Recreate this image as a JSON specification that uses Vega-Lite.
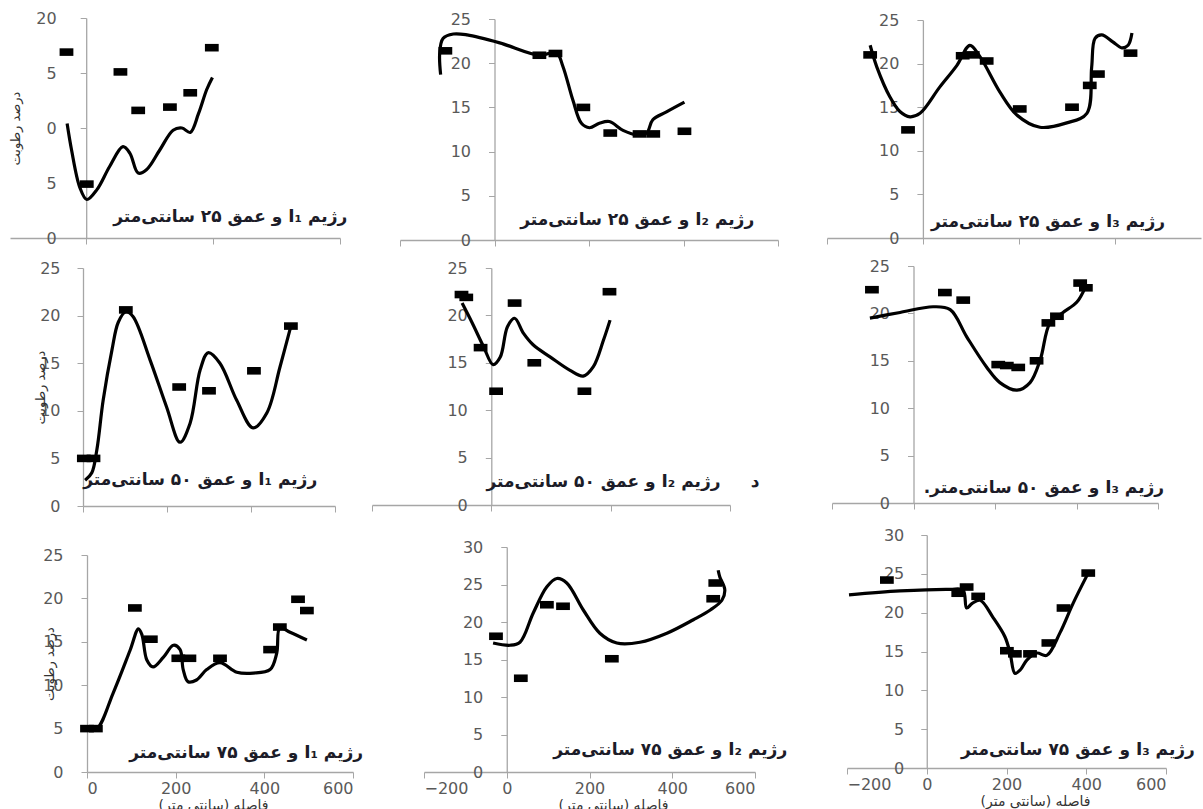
{
"$schema": "https://vega.github.io/schema/vega-lite/v6.json",
"width": 1203,
"height": 809,
"autosize": {"type": "none"},
"padding": 0,
"config": {
  "view": {"stroke": null},
  "font": "DejaVu Sans",
  "axis": {"grid": false, "domainColor": "#a6a6a6", "tickColor": "#a6a6a6", "domainWidth": 1.3, "tickSize": 6, "labelColor": "#595959", "labelFont": "DejaVu Sans", "labelFontSize": 16, "titleFont": "DejaVu Sans", "titleFontWeight": "normal", "titleColor": "#333333", "titleFontSize": 13},
  "line": {"color": "black", "strokeWidth": 3.2, "interpolate": "catmull-rom"},
  "point": {"color": "black", "filled": true, "opacity": 1, "size": 190, "shape": "M-1,-0.55L1,-0.55L1,0.55L-1,0.55Z"},
  "text": {"font": "DejaVu Sans", "fontWeight": "bold", "fontSize": 17, "color": "#1c1c28", "align": "center", "baseline": "middle"}
},
"datasets": {"d": [
{"p":1,"k":"t","label":"\u202bرژیم I₁ و عمق ۲۵ سانتی‌متر\u202c"},
{"p":2,"k":"t","label":"\u202bرژیم I₂ و عمق ۲۵ سانتی‌متر\u202c"},
{"p":3,"k":"t","label":"\u202bرژیم I₃ و عمق ۲۵ سانتی‌متر\u202c"},
{"p":4,"k":"t","label":"\u202bرژیم I₁ و عمق ۵۰ سانتی‌متر\u202c"},
{"p":5,"k":"t","label":"\u202bرژیم I₂ و عمق ۵۰ سانتی‌متر\u202c"},
{"p":5,"k":"u","label":"د"},
{"p":6,"k":"t","label":"\u202bرژیم I₃ و عمق ۵۰ سانتی‌متر.\u202c"},
{"p":7,"k":"t","label":"\u202bرژیم I₁ و عمق ۷۵ سانتی‌متر\u202c"},
{"p":8,"k":"t","label":"\u202bرژیم I₂ و عمق ۷۵ سانتی‌متر\u202c"},
{"p":9,"k":"t","label":"\u202bرژیم I₃ و عمق ۷۵ سانتی‌متر\u202c"},
{"p":1,"k":"m","x":-31,"y":16.9},{"p":1,"k":"m","x":1,"y":4.9},{"p":1,"k":"m","x":54,"y":15.1},{"p":1,"k":"m","x":82,"y":11.6},{"p":1,"k":"m","x":132,"y":11.9},{"p":1,"k":"m","x":164,"y":13.2},{"p":1,"k":"m","x":198,"y":17.3},
{"p":1,"k":"c","i":1,"x":-30,"y":10.4},{"p":1,"k":"c","i":2,"x":-23,"y":8},{"p":1,"k":"c","i":3,"x":-10,"y":4.6},{"p":1,"k":"c","i":4,"x":1,"y":3.5},{"p":1,"k":"c","i":5,"x":17,"y":4.4},{"p":1,"k":"c","i":6,"x":37,"y":6.5},{"p":1,"k":"c","i":7,"x":58,"y":8.3},{"p":1,"k":"c","i":8,"x":69,"y":7.7},{"p":1,"k":"c","i":9,"x":82,"y":5.9},{"p":1,"k":"c","i":10,"x":95,"y":6.2},{"p":1,"k":"c","i":11,"x":116,"y":8},{"p":1,"k":"c","i":12,"x":137,"y":9.8},{"p":1,"k":"c","i":13,"x":151,"y":10},{"p":1,"k":"c","i":14,"x":164,"y":9.6},{"p":1,"k":"c","i":15,"x":177,"y":11.3},{"p":1,"k":"c","i":16,"x":190,"y":13.5},{"p":1,"k":"c","i":17,"x":199,"y":14.6},
{"p":2,"k":"m","x":-104,"y":21.4},{"p":2,"k":"m","x":95,"y":20.9},{"p":2,"k":"m","x":129,"y":21.1},{"p":2,"k":"m","x":188,"y":15},{"p":2,"k":"m","x":245,"y":12.1},{"p":2,"k":"m","x":307,"y":12},{"p":2,"k":"m","x":336,"y":12},{"p":2,"k":"m","x":402,"y":12.3},
{"p":2,"k":"c","i":1,"x":-114,"y":18.7},{"p":2,"k":"c","i":2,"x":-116,"y":21.1},{"p":2,"k":"c","i":3,"x":-109,"y":22.8},{"p":2,"k":"c","i":4,"x":-87,"y":23.3},{"p":2,"k":"c","i":5,"x":-58,"y":23.2},{"p":2,"k":"c","i":6,"x":11,"y":22.3},{"p":2,"k":"c","i":7,"x":95,"y":20.9},{"p":2,"k":"c","i":8,"x":131,"y":21.2},{"p":2,"k":"c","i":9,"x":145,"y":19.6},{"p":2,"k":"c","i":10,"x":166,"y":15.8},{"p":2,"k":"c","i":11,"x":184,"y":13.2},{"p":2,"k":"c","i":12,"x":201,"y":12.7},{"p":2,"k":"c","i":13,"x":222,"y":13.2},{"p":2,"k":"c","i":14,"x":243,"y":13.4},{"p":2,"k":"c","i":15,"x":272,"y":12.4},{"p":2,"k":"c","i":16,"x":301,"y":11.9},{"p":2,"k":"c","i":17,"x":322,"y":12.1},{"p":2,"k":"c","i":18,"x":335,"y":13.6},{"p":2,"k":"c","i":19,"x":364,"y":14.5},{"p":2,"k":"c","i":20,"x":402,"y":15.6},
{"p":3,"k":"m","x":-110,"y":21},{"p":3,"k":"m","x":-31,"y":12.4},{"p":3,"k":"m","x":83,"y":20.9},{"p":3,"k":"m","x":104,"y":21},{"p":3,"k":"m","x":133,"y":20.3},{"p":3,"k":"m","x":202,"y":14.8},{"p":3,"k":"m","x":311,"y":15},{"p":3,"k":"m","x":348,"y":17.5},{"p":3,"k":"m","x":365,"y":18.8},{"p":3,"k":"m","x":433,"y":21.2},
{"p":3,"k":"c","i":1,"x":-110,"y":22.1},{"p":3,"k":"c","i":2,"x":-96,"y":19.6},{"p":3,"k":"c","i":3,"x":-69,"y":16.2},{"p":3,"k":"c","i":4,"x":-48,"y":14.5},{"p":3,"k":"c","i":5,"x":-27,"y":13.9},{"p":3,"k":"c","i":6,"x":-6,"y":14.3},{"p":3,"k":"c","i":7,"x":35,"y":17.3},{"p":3,"k":"c","i":8,"x":71,"y":19.8},{"p":3,"k":"c","i":9,"x":98,"y":22.1},{"p":3,"k":"c","i":10,"x":119,"y":20.8},{"p":3,"k":"c","i":11,"x":161,"y":16.7},{"p":3,"k":"c","i":12,"x":196,"y":14.1},{"p":3,"k":"c","i":13,"x":244,"y":12.7},{"p":3,"k":"c","i":14,"x":300,"y":13.2},{"p":3,"k":"c","i":15,"x":342,"y":14.3},{"p":3,"k":"c","i":16,"x":352,"y":19.6},{"p":3,"k":"c","i":17,"x":359,"y":22.9},{"p":3,"k":"c","i":18,"x":373,"y":23.3},{"p":3,"k":"c","i":19,"x":396,"y":22.5},{"p":3,"k":"c","i":20,"x":415,"y":21.8},{"p":3,"k":"c","i":21,"x":428,"y":22.1},{"p":3,"k":"c","i":22,"x":436,"y":23.5},
{"p":4,"k":"m","x":2,"y":5},{"p":4,"k":"m","x":25,"y":5},{"p":4,"k":"m","x":102,"y":20.6},{"p":4,"k":"m","x":229,"y":12.5},{"p":4,"k":"m","x":300,"y":12.1},{"p":4,"k":"m","x":407,"y":14.2},{"p":4,"k":"m","x":495,"y":18.9},
{"p":4,"k":"c","i":1,"x":5,"y":2.7},{"p":4,"k":"c","i":2,"x":21,"y":3.5},{"p":4,"k":"c","i":3,"x":33,"y":5.9},{"p":4,"k":"c","i":4,"x":48,"y":11.1},{"p":4,"k":"c","i":5,"x":69,"y":16.4},{"p":4,"k":"c","i":6,"x":84,"y":19.3},{"p":4,"k":"c","i":7,"x":102,"y":20.4},{"p":4,"k":"c","i":8,"x":119,"y":19.9},{"p":4,"k":"c","i":9,"x":160,"y":15.3},{"p":4,"k":"c","i":10,"x":199,"y":10.4},{"p":4,"k":"c","i":11,"x":231,"y":6.7},{"p":4,"k":"c","i":12,"x":255,"y":8.7},{"p":4,"k":"c","i":13,"x":279,"y":14.3},{"p":4,"k":"c","i":14,"x":298,"y":16.1},{"p":4,"k":"c","i":15,"x":326,"y":15},{"p":4,"k":"c","i":16,"x":366,"y":11.1},{"p":4,"k":"c","i":17,"x":405,"y":8.2},{"p":4,"k":"c","i":18,"x":438,"y":9.8},{"p":4,"k":"c","i":19,"x":469,"y":14.6},{"p":4,"k":"c","i":20,"x":495,"y":18.9},
{"p":5,"k":"m","x":-50,"y":22.2},{"p":5,"k":"m","x":-42,"y":21.9},{"p":5,"k":"m","x":-18,"y":16.6},{"p":5,"k":"m","x":8,"y":12},{"p":5,"k":"m","x":39,"y":21.3},{"p":5,"k":"m","x":72,"y":15},{"p":5,"k":"m","x":156,"y":12},{"p":5,"k":"m","x":198,"y":22.5},
{"p":5,"k":"c","i":1,"x":-49,"y":21.3},{"p":5,"k":"c","i":2,"x":-32,"y":19.2},{"p":5,"k":"c","i":3,"x":-13,"y":16.7},{"p":5,"k":"c","i":4,"x":3,"y":14.8},{"p":5,"k":"c","i":5,"x":15,"y":15.6},{"p":5,"k":"c","i":6,"x":27,"y":18.8},{"p":5,"k":"c","i":7,"x":39,"y":19.7},{"p":5,"k":"c","i":8,"x":54,"y":18.1},{"p":5,"k":"c","i":9,"x":70,"y":16.9},{"p":5,"k":"c","i":10,"x":99,"y":15.6},{"p":5,"k":"c","i":11,"x":132,"y":14.2},{"p":5,"k":"c","i":12,"x":154,"y":13.6},{"p":5,"k":"c","i":13,"x":171,"y":14.6},{"p":5,"k":"c","i":14,"x":188,"y":17.4},{"p":5,"k":"c","i":15,"x":199,"y":19.5},
{"p":6,"k":"m","x":-102,"y":22.5},{"p":6,"k":"m","x":77,"y":22.2},{"p":6,"k":"m","x":122,"y":21.4},{"p":6,"k":"m","x":208,"y":14.6},{"p":6,"k":"m","x":229,"y":14.5},{"p":6,"k":"m","x":257,"y":14.3},{"p":6,"k":"m","x":302,"y":15},{"p":6,"k":"m","x":331,"y":19},{"p":6,"k":"m","x":352,"y":19.7},{"p":6,"k":"m","x":409,"y":23.2},{"p":6,"k":"m","x":423,"y":22.7},
{"p":6,"k":"c","i":1,"x":-107,"y":19.5},{"p":6,"k":"c","i":2,"x":-33,"y":20.1},{"p":6,"k":"c","i":3,"x":48,"y":20.7},{"p":6,"k":"c","i":4,"x":90,"y":20.4},{"p":6,"k":"c","i":5,"x":131,"y":17.5},{"p":6,"k":"c","i":6,"x":180,"y":14.3},{"p":6,"k":"c","i":7,"x":212,"y":12.7},{"p":6,"k":"c","i":8,"x":254,"y":11.9},{"p":6,"k":"c","i":9,"x":286,"y":12.7},{"p":6,"k":"c","i":10,"x":311,"y":15.1},{"p":6,"k":"c","i":11,"x":335,"y":19},{"p":6,"k":"c","i":12,"x":367,"y":20.1},{"p":6,"k":"c","i":13,"x":401,"y":21.2},{"p":6,"k":"c","i":14,"x":421,"y":22.7},
{"p":7,"k":"m","x":0,"y":5},{"p":7,"k":"m","x":20,"y":5},{"p":7,"k":"m","x":108,"y":18.9},{"p":7,"k":"m","x":144,"y":15.3},{"p":7,"k":"m","x":206,"y":13.1},{"p":7,"k":"m","x":231,"y":13.1},{"p":7,"k":"m","x":300,"y":13.1},{"p":7,"k":"m","x":413,"y":14.1},{"p":7,"k":"m","x":435,"y":16.7},{"p":7,"k":"m","x":476,"y":19.9},{"p":7,"k":"m","x":496,"y":18.6},
{"p":7,"k":"c","i":1,"x":0,"y":5},{"p":7,"k":"c","i":2,"x":22,"y":5},{"p":7,"k":"c","i":3,"x":59,"y":9.1},{"p":7,"k":"c","i":4,"x":97,"y":14},{"p":7,"k":"c","i":5,"x":116,"y":16.5},{"p":7,"k":"c","i":6,"x":124,"y":15.8},{"p":7,"k":"c","i":7,"x":135,"y":12.9},{"p":7,"k":"c","i":8,"x":149,"y":12.1},{"p":7,"k":"c","i":9,"x":172,"y":13.2},{"p":7,"k":"c","i":10,"x":195,"y":14.6},{"p":7,"k":"c","i":11,"x":210,"y":14.1},{"p":7,"k":"c","i":12,"x":217,"y":11.8},{"p":7,"k":"c","i":13,"x":228,"y":10.4},{"p":7,"k":"c","i":14,"x":247,"y":10.6},{"p":7,"k":"c","i":15,"x":270,"y":11.8},{"p":7,"k":"c","i":16,"x":300,"y":12.6},{"p":7,"k":"c","i":17,"x":338,"y":11.5},{"p":7,"k":"c","i":18,"x":375,"y":11.4},{"p":7,"k":"c","i":19,"x":413,"y":11.8},{"p":7,"k":"c","i":20,"x":428,"y":13.7},{"p":7,"k":"c","i":21,"x":435,"y":16.6},{"p":7,"k":"c","i":22,"x":458,"y":16.1},{"p":7,"k":"c","i":23,"x":496,"y":15.2},
{"p":8,"k":"m","x":-26,"y":18.1},{"p":8,"k":"m","x":34,"y":12.5},{"p":8,"k":"m","x":97,"y":22.3},{"p":8,"k":"m","x":136,"y":22.1},{"p":8,"k":"m","x":254,"y":15.1},{"p":8,"k":"m","x":499,"y":23.1},{"p":8,"k":"m","x":504,"y":25.2},
{"p":8,"k":"c","i":1,"x":-33,"y":17.2},{"p":8,"k":"c","i":2,"x":8,"y":16.9},{"p":8,"k":"c","i":3,"x":32,"y":17.3},{"p":8,"k":"c","i":4,"x":64,"y":21.2},{"p":8,"k":"c","i":5,"x":97,"y":24.7},{"p":8,"k":"c","i":6,"x":121,"y":25.8},{"p":8,"k":"c","i":7,"x":145,"y":25.2},{"p":8,"k":"c","i":8,"x":185,"y":21.6},{"p":8,"k":"c","i":9,"x":225,"y":18.5},{"p":8,"k":"c","i":10,"x":266,"y":17.2},{"p":8,"k":"c","i":11,"x":322,"y":17.3},{"p":8,"k":"c","i":12,"x":387,"y":18.5},{"p":8,"k":"c","i":13,"x":451,"y":20.3},{"p":8,"k":"c","i":14,"x":492,"y":21.6},{"p":8,"k":"c","i":15,"x":520,"y":22.9},{"p":8,"k":"c","i":16,"x":527,"y":24.3},{"p":8,"k":"c","i":17,"x":515,"y":26},{"p":8,"k":"c","i":18,"x":511,"y":26.9},
{"p":9,"k":"m","x":-100,"y":24.2},{"p":9,"k":"m","x":79,"y":22.5},{"p":9,"k":"m","x":100,"y":23.3},{"p":9,"k":"m","x":129,"y":22.1},{"p":9,"k":"m","x":201,"y":15.1},{"p":9,"k":"m","x":221,"y":14.7},{"p":9,"k":"m","x":259,"y":14.7},{"p":9,"k":"m","x":305,"y":16.1},{"p":9,"k":"m","x":343,"y":20.6},{"p":9,"k":"m","x":405,"y":25.1},
{"p":9,"k":"c","i":1,"x":-195,"y":22.3},{"p":9,"k":"c","i":2,"x":-67,"y":22.8},{"p":9,"k":"c","i":3,"x":58,"y":23},{"p":9,"k":"c","i":4,"x":91,"y":22.9},{"p":9,"k":"c","i":5,"x":100,"y":20.6},{"p":9,"k":"c","i":6,"x":114,"y":21.2},{"p":9,"k":"c","i":7,"x":134,"y":21.6},{"p":9,"k":"c","i":8,"x":166,"y":19.4},{"p":9,"k":"c","i":9,"x":196,"y":16.9},{"p":9,"k":"c","i":10,"x":209,"y":14.8},{"p":9,"k":"c","i":11,"x":221,"y":12.2},{"p":9,"k":"c","i":12,"x":234,"y":12.6},{"p":9,"k":"c","i":13,"x":251,"y":13.9},{"p":9,"k":"c","i":14,"x":276,"y":14.8},{"p":9,"k":"c","i":15,"x":301,"y":14.5},{"p":9,"k":"c","i":16,"x":334,"y":17.4},{"p":9,"k":"c","i":17,"x":367,"y":21.2},{"p":9,"k":"c","i":18,"x":402,"y":24.8}
]},
"data": {"name": "d"},
"resolve": {"scale": {"x": "independent", "y": "independent"}, "axis": {"x": "independent", "y": "independent"}},
"layer": [
  {"transform": [{"filter": "datum.p == 1"}],
   "layer": [
    {"transform": [{"filter": "datum.k == 'c'"}], "mark": "line", "encoding": {
      "x": {"field": "x", "type": "quantitative", "scale": {"domain": [-120, 400], "range": [10, 340], "nice": false, "zero": false}, "axis": {"orient": "bottom", "offset": -571, "values": [0, 200, 400], "labels": false, "title": null}},
      "y": {"field": "y", "type": "quantitative", "scale": {"domain": [0, 20], "range": [238, 18], "nice": false}, "axis": {"orient": "left", "offset": -86.2, "values": [0, 5, 10, 15, 20], "labelPadding": 24, "labelExpr": "datum.value == 20 ? '20' : '' + (datum.value % 10)", "title": "درصد رطوبت", "titleX": -71, "titleBaseline": "middle"}},
      "order": {"field": "i", "type": "quantitative"}}},
    {"transform": [{"filter": "datum.k == 'm'"}], "mark": "point", "encoding": {"x": {"field": "x", "type": "quantitative"}, "y": {"field": "y", "type": "quantitative"}}},
    {"transform": [{"filter": "datum.k == 't'"}], "mark": "text", "encoding": {"x": {"datum": 227, "type": "quantitative"}, "y": {"datum": 1.9, "type": "quantitative"}, "text": {"field": "label"}}}
   ]},
  {"transform": [{"filter": "datum.p == 2"}],
   "layer": [
    {"transform": [{"filter": "datum.k == 'c'"}], "mark": "line", "encoding": {
      "x": {"field": "x", "type": "quantitative", "scale": {"domain": [-200, 600], "range": [400, 778], "nice": false, "zero": false}, "axis": {"orient": "bottom", "offset": -569, "values": [-200, 0, 200, 400, 600], "labels": false, "title": null}},
      "y": {"field": "y", "type": "quantitative", "scale": {"domain": [0, 25], "range": [240, 19], "nice": false}, "axis": {"orient": "left", "offset": -494.5, "values": [0, 5, 10, 15, 20, 25], "labelPadding": 18, "title": null}},
      "order": {"field": "i", "type": "quantitative"}}},
    {"transform": [{"filter": "datum.k == 'm'"}], "mark": "point", "encoding": {"x": {"field": "x", "type": "quantitative"}, "y": {"field": "y", "type": "quantitative"}}},
    {"transform": [{"filter": "datum.k == 't'"}], "mark": "text", "encoding": {"x": {"datum": 302, "type": "quantitative"}, "y": {"datum": 2.3, "type": "quantitative"}, "text": {"field": "label"}}}
   ]},
  {"transform": [{"filter": "datum.p == 3"}],
   "layer": [
    {"transform": [{"filter": "datum.k == 'c'"}], "mark": "line", "encoding": {
      "x": {"field": "x", "type": "quantitative", "scale": {"domain": [-200, 580], "range": [827, 1201], "nice": false, "zero": false}, "axis": {"orient": "bottom", "offset": -571, "values": [-200, 0, 200, 400], "labels": false, "title": null}},
      "y": {"field": "y", "type": "quantitative", "scale": {"domain": [0, 25], "range": [238, 20], "nice": false}, "axis": {"orient": "left", "offset": -922.9, "values": [0, 5, 10, 15, 20, 25], "labelPadding": 18, "title": null}},
      "order": {"field": "i", "type": "quantitative"}}},
    {"transform": [{"filter": "datum.k == 'm'"}], "mark": "point", "encoding": {"x": {"field": "x", "type": "quantitative"}, "y": {"field": "y", "type": "quantitative"}}},
    {"transform": [{"filter": "datum.k == 't'"}], "mark": "text", "encoding": {"x": {"datum": 261, "type": "quantitative"}, "y": {"datum": 1.8, "type": "quantitative"}, "text": {"field": "label"}}}
   ]},
  {"transform": [{"filter": "datum.p == 4"}],
   "layer": [
    {"transform": [{"filter": "datum.k == 'c'"}], "mark": "line", "encoding": {
      "x": {"field": "x", "type": "quantitative", "scale": {"domain": [0, 600], "range": [83, 335], "nice": false, "zero": false}, "axis": {"orient": "bottom", "offset": -303, "values": [0, 200, 400, 600], "labels": false, "title": null}},
      "y": {"field": "y", "type": "quantitative", "scale": {"domain": [0, 25], "range": [506, 268], "nice": false}, "axis": {"orient": "left", "offset": -83, "values": [0, 5, 10, 15, 20, 25], "labelPadding": 17, "title": "درصد رطوبت", "titleX": -43, "titleBaseline": "middle"}},
      "order": {"field": "i", "type": "quantitative"}}},
    {"transform": [{"filter": "datum.k == 'm'"}], "mark": "point", "encoding": {"x": {"field": "x", "type": "quantitative"}, "y": {"field": "y", "type": "quantitative"}}},
    {"transform": [{"filter": "datum.k == 't'"}], "mark": "text", "encoding": {"x": {"datum": 279, "type": "quantitative"}, "y": {"datum": 2.7, "type": "quantitative"}, "text": {"field": "label"}}}
   ]},
  {"transform": [{"filter": "datum.p == 5"}],
   "layer": [
    {"transform": [{"filter": "datum.k == 'c'"}], "mark": "line", "encoding": {
      "x": {"field": "x", "type": "quantitative", "scale": {"domain": [-200, 400], "range": [372, 730], "nice": false, "zero": false}, "axis": {"orient": "bottom", "offset": -304, "values": [-200, 0, 200, 400], "labels": false, "title": null}},
      "y": {"field": "y", "type": "quantitative", "scale": {"domain": [0, 25], "range": [505, 268], "nice": false}, "axis": {"orient": "left", "offset": -491.3, "values": [0, 5, 10, 15, 20, 25], "labelPadding": 18, "title": null}},
      "order": {"field": "i", "type": "quantitative"}}},
    {"transform": [{"filter": "datum.k == 'm'"}], "mark": "point", "encoding": {"x": {"field": "x", "type": "quantitative"}, "y": {"field": "y", "type": "quantitative"}}},
    {"transform": [{"filter": "datum.k == 't'"}], "mark": "text", "encoding": {"x": {"datum": 188, "type": "quantitative"}, "y": {"datum": 2.4, "type": "quantitative"}, "text": {"field": "label"}}},
    {"transform": [{"filter": "datum.k == 'u'"}], "mark": "text", "encoding": {"x": {"datum": 442, "type": "quantitative"}, "y": {"datum": 2.4, "type": "quantitative"}, "text": {"field": "label"}}}
   ]},
  {"transform": [{"filter": "datum.p == 6"}],
   "layer": [
    {"transform": [{"filter": "datum.k == 'c'"}], "mark": "line", "encoding": {
      "x": {"field": "x", "type": "quantitative", "scale": {"domain": [-200, 600], "range": [832, 1158], "nice": false, "zero": false}, "axis": {"orient": "bottom", "offset": -306, "values": [-200, 0, 200, 400, 600], "labels": false, "title": null}},
      "y": {"field": "y", "type": "quantitative", "scale": {"domain": [0, 25], "range": [503, 266], "nice": false}, "axis": {"orient": "left", "offset": -913.5, "values": [0, 5, 10, 15, 20, 25], "labelPadding": 18, "title": null}},
      "order": {"field": "i", "type": "quantitative"}}},
    {"transform": [{"filter": "datum.k == 'm'"}], "mark": "point", "encoding": {"x": {"field": "x", "type": "quantitative"}, "y": {"field": "y", "type": "quantitative"}}},
    {"transform": [{"filter": "datum.k == 't'"}], "mark": "text", "encoding": {"x": {"datum": 320, "type": "quantitative"}, "y": {"datum": 1.6, "type": "quantitative"}, "text": {"field": "label"}}}
   ]},
  {"transform": [{"filter": "datum.p == 7"}],
   "layer": [
    {"transform": [{"filter": "datum.k == 'c'"}], "mark": "line", "encoding": {
      "x": {"field": "x", "type": "quantitative", "scale": {"domain": [0, 600], "range": [87, 353], "nice": false, "zero": false}, "axis": {"orient": "bottom", "offset": -37, "values": [0, 200, 400, 600], "labelPadding": 2, "title": "فاصله (سانتی متر)", "titleFontSize": 14, "titlePadding": 2, "titleX": 213}},
      "y": {"field": "y", "type": "quantitative", "scale": {"domain": [0, 25], "range": [772, 555], "nice": false}, "axis": {"orient": "left", "offset": -87, "values": [0, 5, 10, 15, 20, 25], "labelPadding": 18, "title": "درصد رطوبت", "titleX": -38, "titleBaseline": "middle"}},
      "order": {"field": "i", "type": "quantitative"}}},
    {"transform": [{"filter": "datum.k == 'm'"}], "mark": "point", "encoding": {"x": {"field": "x", "type": "quantitative"}, "y": {"field": "y", "type": "quantitative"}}},
    {"transform": [{"filter": "datum.k == 't'"}], "mark": "text", "encoding": {"x": {"datum": 359, "type": "quantitative"}, "y": {"datum": 2.2, "type": "quantitative"}, "text": {"field": "label"}}}
   ]},
  {"transform": [{"filter": "datum.p == 8"}],
   "layer": [
    {"transform": [{"filter": "datum.k == 'c'"}], "mark": "line", "encoding": {
      "x": {"field": "x", "type": "quantitative", "scale": {"domain": [-200, 600], "range": [424, 755], "nice": false, "zero": false}, "axis": {"orient": "bottom", "offset": -37, "values": [-200, 0, 200, 400, 600], "labelPadding": 2, "title": "فاصله (سانتی متر)", "titleFontSize": 14, "titlePadding": 2, "titleX": 613}},
      "y": {"field": "y", "type": "quantitative", "scale": {"domain": [0, 30], "range": [772, 547], "nice": false}, "axis": {"orient": "left", "offset": -506.75, "values": [0, 5, 10, 15, 20, 25, 30], "labelPadding": 18, "title": null}},
      "order": {"field": "i", "type": "quantitative"}}},
    {"transform": [{"filter": "datum.k == 'm'"}], "mark": "point", "encoding": {"x": {"field": "x", "type": "quantitative"}, "y": {"field": "y", "type": "quantitative"}}},
    {"transform": [{"filter": "datum.k == 't'"}], "mark": "text", "encoding": {"x": {"datum": 395, "type": "quantitative"}, "y": {"datum": 2.9, "type": "quantitative"}, "text": {"field": "label"}}}
   ]},
  {"transform": [{"filter": "datum.p == 9"}],
   "layer": [
    {"transform": [{"filter": "datum.k == 'c'"}], "mark": "line", "encoding": {
      "x": {"field": "x", "type": "quantitative", "scale": {"domain": [-200, 600], "range": [847, 1166], "nice": false, "zero": false}, "axis": {"orient": "bottom", "offset": -41, "values": [-200, 0, 200, 400, 600], "labelPadding": 2, "title": "فاصله (سانتی متر)", "titleFontSize": 14, "titlePadding": 2, "titleX": 1035}},
      "y": {"field": "y", "type": "quantitative", "scale": {"domain": [0, 30], "range": [768, 535], "nice": false}, "axis": {"orient": "left", "offset": -926.75, "values": [0, 5, 10, 15, 20, 25, 30], "labelPadding": 17, "title": null}},
      "order": {"field": "i", "type": "quantitative"}}},
    {"transform": [{"filter": "datum.k == 'm'"}], "mark": "point", "encoding": {"x": {"field": "x", "type": "quantitative"}, "y": {"field": "y", "type": "quantitative"}}},
    {"transform": [{"filter": "datum.k == 't'"}], "mark": "text", "encoding": {"x": {"datum": 379, "type": "quantitative"}, "y": {"datum": 2.3, "type": "quantitative"}, "text": {"field": "label"}}}
   ]}
]
}
